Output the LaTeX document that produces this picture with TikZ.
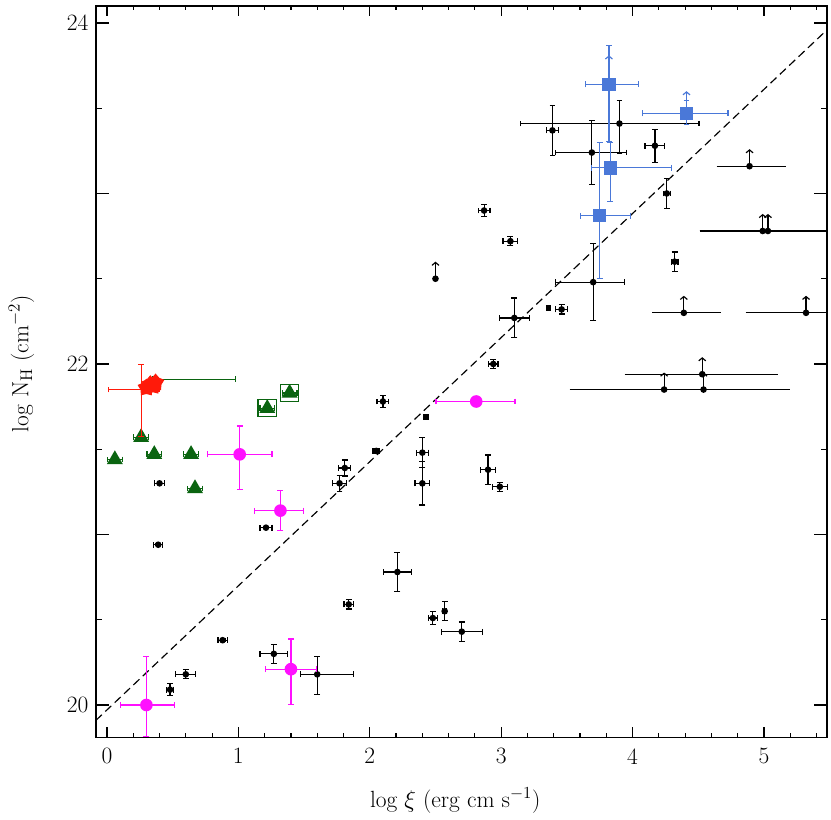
\documentclass[tikz,border=0pt]{standalone}
\usepackage{tikz}
\usetikzlibrary{arrows.meta,shapes.geometric}
\definecolor{pblue}{HTML}{4a78d8}
\definecolor{pgreen}{HTML}{0a6410}
\definecolor{pred}{HTML}{ff1a0a}
\definecolor{pmag}{HTML}{ff10ff}
\tikzset{
  ebar/.style={line width=1pt, {Bar[width=5pt]}-{Bar[width=5pt]}},
  dotm/.style={circle, fill=black, inner sep=0pt, minimum size=2mm},
  sqm/.style={rectangle, fill=black, inner sep=0pt, minimum size=1.7mm},
  bsq/.style={rectangle, fill=pblue, inner sep=0pt, minimum size=4mm},
  gtri/.style={regular polygon, regular polygon sides=3, fill=pgreen, inner sep=0pt, minimum size=5.5mm},
  mcirc/.style={circle, fill=pmag, inner sep=0pt, minimum size=3.8mm},
  rstar/.style={star, star points=5, draw=pred, fill=pred, line width=1pt, inner sep=0pt, minimum size=5mm},
  uparr/.style={line width=1pt, -{Straight Barb[length=2.5pt,width=6pt]}},
  ticklab/.style={font=\fontsize{20}{24}\selectfont}
}
\begin{document}
\begin{tikzpicture}[x=3.942cm, y=5.115cm]
\useasboundingbox (-0.814,19.331) rectangle (5.510,24.135);
% frame and ticks
\draw[line width=1.2pt] (-0.084,19.81) rectangle (5.48,24.1);
\foreach \t in {0,0.2,...,5.4} {
  \draw[line width=1pt] (\t,19.81) -- ++(0,0.025);
  \draw[line width=1pt] (\t,24.1) -- ++(0,-0.025);
}
\foreach \t in {0,...,5} {
  \draw[line width=1pt] (\t,19.81) -- ++(0,0.06);
  \draw[line width=1pt] (\t,24.1) -- ++(0,-0.06);
  \node[ticklab, anchor=north] (xl\t) at (\t,19.77) {\t};
}
\foreach \t in {20,20.5,...,24} {
  \draw[line width=1pt] (-0.084,\t) -- ++(0.05,0);
  \draw[line width=1pt] (5.48,\t) -- ++(-0.05,0);
}
\foreach \t in {20,21,...,24} {
  \draw[line width=1pt] (-0.084,\t) -- ++(0.1,0);
  \draw[line width=1pt] (5.48,\t) -- ++(-0.1,0);
}
\foreach \t in {20,22,24}
  \node[ticklab, anchor=east] (yl\t) at (-0.11,\t) {\t};
\node[ticklab] (xlab) at (2.65,19.44) {log $\xi$ (erg cm s$^{-1}$)};
\node[ticklab, rotate=90] (ylab) at (-0.65,22.0) {log N$_{\mathrm{H}}$ (cm$^{-2}$)};
% one-to-one line
\draw[line width=1pt, dash pattern=on 7pt off 4pt] (-0.084,19.91) -- (5.48,23.96);
% black sources: x/y/dx/dy
\foreach \x/\y/\dx/\dy in {3.39/23.37/0.05/0.15, 4.17/23.28/0.08/0.1, 4.26/23.0/0.03/0.09,
  4.32/22.60/0.03/0.06, 2.87/22.90/0.05/0.04, 3.07/22.72/0.06/0.03, 3.46/22.32/0.05/0.03,
  3.10/22.27/0.12/0.12, 2.94/22.0/0.04/0.03, 2.10/21.78/0.05/0.04, 2.40/21.48/0.05/0.09,
  2.40/21.30/0.06/0.13, 2.90/21.38/0.06/0.09, 1.81/21.39/0.05/0.05, 1.77/21.30/0.06/0.05,
  2.99/21.28/0.06/0.03, 0.40/21.30/0.04/0.01, 1.21/21.04/0.05/0.01, 0.39/20.94/0.04/0.01,
  2.21/20.78/0.11/0.12, 1.84/20.59/0.04/0.03, 2.48/20.51/0.04/0.04, 2.57/20.55/0.02/0.06,
  2.70/20.43/0.16/0.06, 0.88/20.38/0.04/0.01, 1.27/20.30/0.11/0.06, 0.60/20.18/0.08/0.03,
  0.48/20.09/0.03/0.04, 2.05/21.49/0.03/0.02} {
  \draw[ebar] (\x-\dx,\y) -- (\x+\dx,\y);
  \draw[ebar] (\x,\y-\dy) -- (\x,\y+\dy);
  \node[dotm] at (\x,\y) {};
}
% asymmetric black sources: x/y/xlo/xhi/ylo/yhi
\foreach \x/\y/\xa/\xb/\ya/\yb in {3.69/23.24/3.41/3.96/23.05/23.43, 3.90/23.41/3.14/4.51/23.23/23.55,
  3.70/22.48/3.41/3.94/22.25/22.71, 1.60/20.18/1.47/1.88/20.06/20.29} {
  \draw[ebar] (\xa,\y) -- (\xb,\y);
  \draw[ebar] (\x,\ya) -- (\x,\yb);
  \node[dotm] at (\x,\y) {};
}
\node[sqm] (s1) at (3.36,22.33) {};
\node[sqm] (s2) at (2.43,21.69) {};
% lower limits: x/y/xlo/xhi
\foreach \x/\y/\xa/\xb in {4.89/23.16/4.64/5.17, 4.99/22.78/4.51/5.47, 5.03/22.78/4.51/5.47,
  4.39/22.30/4.15/4.67, 5.32/22.30/4.86/5.47, 4.53/21.94/3.94/5.11,
  4.24/21.85/3.52/4.97, 4.54/21.85/3.96/5.20, 2.50/22.50/2.50/2.50} {
  \draw[line width=1pt] (\xa,\y) -- (\xb,\y);
  \node[dotm] at (\x,\y) {};
  \draw[uparr] (\x,\y) -- ++(0,0.1);
}
% blue sources
\foreach \x/\y/\xa/\xb/\ya/\yb in {3.82/23.64/3.64/4.05/23.3/23.87, 4.41/23.47/4.07/4.73/23.4/23.55,
  3.83/23.15/3.68/4.30/22.95/23.3, 3.75/22.87/3.60/3.99/22.5/23.3} {
  \draw[ebar, pblue] (\xa,\y) -- (\xb,\y);
  \draw[ebar, pblue] (\x,\ya) -- (\x,\yb);
  \node[bsq] at (\x,\y) {};
}
\draw[uparr, pblue] (3.82,23.64) -- ++(0,0.17);
\draw[uparr, pblue] (4.41,23.47) -- ++(0,0.13);
% green sources
\draw[ebar, pgreen] (0.34,21.91) -- (0.98,21.91);
\foreach \x/\y in {0.26/21.57, 0.06/21.44, 0.36/21.47, 0.64/21.47, 0.67/21.27, 1.22/21.74, 1.39/21.83} {
  \draw[ebar, pgreen] (\x-0.06,\y) -- (\x+0.06,\y);
  \node[gtri] at (\x,\y) {};
}
\draw[pgreen, line width=1pt] (1.15,21.69) rectangle (1.29,21.79);
\draw[pgreen, line width=1pt] (1.32,21.78) rectangle (1.46,21.88);
% red sources
\draw[ebar, pred] (0.01,21.85) -- (0.40,21.85);
\draw[ebar, pred] (0.26,21.57) -- (0.26,22.0);
\foreach \x/\y in {0.30/21.86, 0.33/21.88, 0.37/21.89, 0.35/21.87}
  \node[rstar] at (\x,\y) {};
% magenta sources
\foreach \x/\y/\xa/\xb/\ya/\yb in {2.81/21.78/2.50/3.11/21.78/21.78, 1.01/21.47/0.76/1.26/21.26/21.64,
  1.32/21.14/1.12/1.50/21.02/21.26, 0.30/20.0/0.10/0.52/19.81/20.29, 1.40/20.21/1.20/1.60/20.0/20.39} {
  \draw[ebar, pmag] (\xa,\y) -- (\xb,\y);
  \draw[ebar, pmag] (\x,\ya) -- (\x,\yb);
  \node[mcirc] at (\x,\y) {};
}
\end{tikzpicture}
\end{document}
